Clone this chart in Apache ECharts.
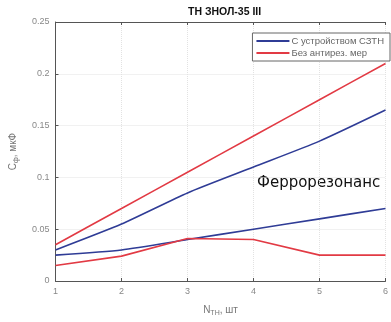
<!DOCTYPE html>
<html>
<head>
<meta charset="utf-8">
<script src="https://cdn.jsdelivr.net/npm/echarts@6/dist/echarts.min.js"></script>
<style>
  html, body { margin: 0; padding: 0; background: #fff; }
  #chart { width: 391px; height: 322px; }
</style>
</head>
<body>
<div id="chart"></div>
<script>
// количество ТН
var nTH = [1, 2, 3, 4, 5, 6];
// С устройством СЗТН
var blueUpper = [0.030, 0.055, 0.085, 0.110, 0.135, 0.165];
var blueLower = [0.025, 0.030, 0.040, 0.050, 0.060, 0.070];
// Без антирез. мер
var redUpper = [0.035, 0.070, 0.105, 0.140, 0.175, 0.210];
var redLower = [0.015, 0.024, 0.041, 0.040, 0.025, 0.025];

var nameBlue = 'С устройством СЗТН';
var nameRed = 'Без антирез. мер';
var colBlue = '#2f3c96';
var colRed = '#e23a44';

function pairs(xs, ys) {
    var out = [];
    for (var i = 0; i < xs.length; i++) out.push([xs[i], ys[i]]);
    return out;
}

function line(name, color, data, smooth) {
    return {
        name: name,
        type: 'line',
        data: pairs(nTH, data),
        showSymbol: false,
        smooth: smooth,
        lineStyle: { color: color, width: 1.6 },
        itemStyle: { color: color }
    };
}

var axisCommon = {
    type: 'value',
    axisLine: { show: true, lineStyle: { color: '#555' } },
    axisTick: { inside: true, length: 3, lineStyle: { color: '#555' } },
    splitLine: { show: true, lineStyle: { color: '#e2e2e2', type: 'dotted' } }
};

var chart = echarts.init(document.getElementById('chart'));
chart.setOption({
    animation: false,
    title: {
        text: 'ТН ЗНОЛ-35 III',
        left: 183, top: 2,
        textStyle: { fontSize: 10.5, fontWeight: 'bold', color: '#111', fontFamily: 'Liberation Sans' }
    },
    legend: {
        orient: 'vertical',
        right: 1, top: 33,
        data: [nameBlue, nameRed],
        icon: 'rect',
        itemWidth: 33, itemHeight: 2,
        itemGap: 2,
        padding: [3, 6, 3, 4],
        borderColor: '#666', borderWidth: 1,
        backgroundColor: '#fff',
        textStyle: { fontSize: 9.5, color: '#666', fontFamily: 'Liberation Sans', padding: [0, 0, 0, -3] }
    },
    grid: { left: 52, right: 0, top: 22, bottom: 31 },
    xAxis: [Object.assign({}, axisCommon, {
        min: 1, max: 6, interval: 1,
        name: '{n|N}{s|TH}{n|, шт}',
        nameLocation: 'middle',
        nameGap: 23,
        nameTextStyle: {
            rich: {
                n: { fontSize: 10, color: '#777', fontFamily: 'Liberation Sans' },
                s: { fontSize: 7, color: '#777', padding: [6, 0, 0, 0] }
            }
        },
        axisLabel: { fontSize: 9, color: '#888', margin: 6, fontFamily: 'Liberation Sans' }
    }), Object.assign({}, axisCommon, {
        position: 'top',
        min: 1, max: 6, interval: 1,
        axisLabel: { show: false },
        splitLine: { show: false }
    })],
    yAxis: Object.assign({}, axisCommon, {
        min: 0, max: 0.25, interval: 0.05,
        name: '{n|C}{s|ф}{n|, мкФ}',
        nameLocation: 'middle',
        nameGap: 36,
        nameTextStyle: {
            rich: {
                n: { fontSize: 10, color: '#777', fontFamily: 'Liberation Sans' },
                s: { fontSize: 7, color: '#777', padding: [6, 0, 0, 0] }
            }
        },
        axisLabel: {
            fontSize: 9, color: '#888', margin: 6, fontFamily: 'Liberation Sans',
            formatter: function (v) { return String(+v.toFixed(2)); }
        }
    }),
    graphic: [{
        type: 'text',
        left: 257, top: 176,
        style: { text: 'Феррорезонанс', fontSize: 15, fill: '#111', fontFamily: 'DejaVu Sans' }
    }],
    series: [
        line(nameBlue, colBlue, blueUpper, 0.2),
        line(nameBlue, colBlue, blueLower, 0.2),
        line(nameRed, colRed, redUpper, 0.2),
        line(nameRed, colRed, redLower, false)
    ]
});
</script>
</body>
</html>
